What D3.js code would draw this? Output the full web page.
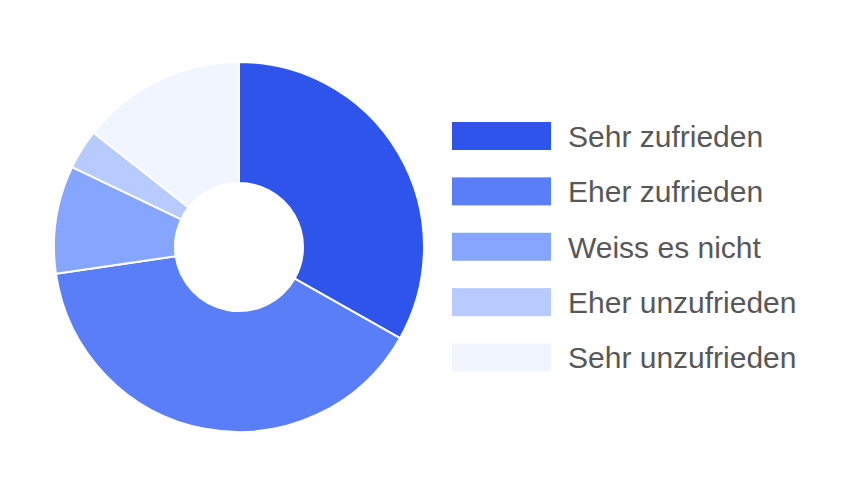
<!DOCTYPE html>
<html><head><meta charset="utf-8">
<script src="https://cdn.jsdelivr.net/npm/d3@7"></script>
<style>html,body{margin:0;padding:0;background:#fff;}svg{display:block;}</style>
</head><body>
<svg id="c" width="860" height="483"></svg>
<script>
const categories = ["Sehr zufrieden","Eher zufrieden","Weiss es nicht","Eher unzufrieden","Sehr unzufrieden"];
const values = [33.2, 39.5, 9.4, 3.5, 14.4];
const colors = ["#2F54EB","#597EF7","#85A5FF","#B8CBFE","#F0F5FF"];

const svg = d3.select("#c");
const cx = 239, cy = 247, rOuter = 185, rInner = 64;
const pie = d3.pie().sort(null).value(d => d)(values);
const arc = d3.arc().innerRadius(rInner).outerRadius(rOuter);
const color = d3.scaleOrdinal().domain(categories).range(colors);

svg.append("g").attr("transform", `translate(${cx},${cy})`)
  .selectAll("path").data(pie).join("path")
  .attr("d", arc)
  .attr("fill", (d,i) => color(categories[i]))
  .attr("stroke", "#fff").attr("stroke-width", 2).attr("stroke-linejoin","round");

const y = d3.scalePoint().domain(categories).range([136, 357.5]);
const lg = svg.append("g");
const items = lg.selectAll("g").data(categories).join("g")
  .attr("transform", d => `translate(452,${y(d)})`);
items.append("rect").attr("x",0).attr("y",-14).attr("width",99).attr("height",28)
  .attr("fill", d => color(d));
items.append("text").attr("x",116).attr("y",0).attr("dy","0.36em")
  .attr("font-family","'Liberation Sans', Arial, Helvetica, sans-serif")
  .attr("font-size",30).attr("fill","#585858").text(d => d);
</script>
</body></html>
